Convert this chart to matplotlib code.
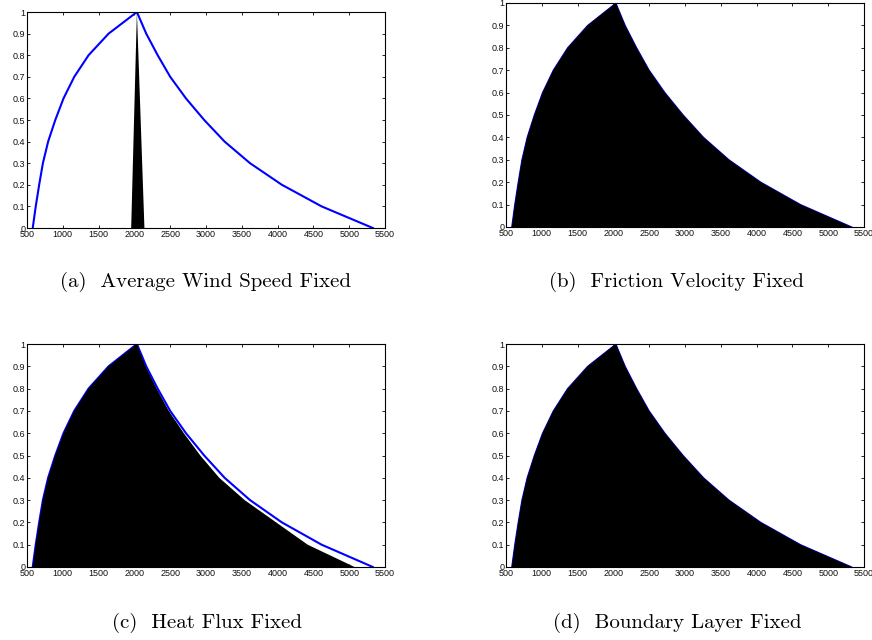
import matplotlib
matplotlib.use("Agg")
import matplotlib.pyplot as plt
import numpy as np

# membership levels
levels = [0, 0.1, 0.2, 0.3, 0.4, 0.5, 0.6, 0.7, 0.8, 0.9, 1.0]
# blue curve: rising side x for each level, falling side x for each level (1 -> 0)
rise_x = [580, 622, 670, 722, 795, 895, 1010, 1160, 1360, 1640, 2035]
fall_x = [2035, 2165, 2325, 2500, 2720, 2975, 3260, 3615, 4060, 4615, 5330]
# black area in (a): narrow spike
spike_x = [1955, 2035, 2140]
spike_y = [0, 1, 0]
# black area in (c): falling side slightly inside the blue curve
fall_x_c = [2035, 2155, 2310, 2480, 2690, 2920, 3185, 3540, 3980, 4420, 5075]

captions = ["(a)  Average Wind Speed Fixed", "(b)  Friction Velocity Fixed",
            "(c)  Heat Flux Fixed", "(d)  Boundary Layer Fixed"]

xticks = list(range(500, 5501, 500))
yticks = [0, 0.1, 0.2, 0.3, 0.4, 0.5, 0.6, 0.7, 0.8, 0.9, 1]
ytick_labels = ["0", "0.1", "0.2", "0.3", "0.4", "0.5", "0.6", "0.7", "0.8", "0.9", "1"]

W, H = 872, 640
fig = plt.figure(figsize=(W / 100, H / 100), dpi=100)

# axes boxes in pixels: left, top, right, bottom
boxes = [(27, 12, 385, 228), (506, 3, 864, 227), (27, 344, 385, 567), (506, 344, 864, 567)]
cap_pos = [(205, 282), (676, 282), (207, 623), (677, 623)]

blue_x = rise_x + fall_x[1:]
blue_y = levels + levels[::-1][1:]

for i, (l, t, r, b) in enumerate(boxes):
    ax = fig.add_axes([l / W, 1 - b / H, (r - l) / W, (b - t) / H])
    if i == 0:
        ax.plot(blue_x, blue_y, color="#0000ff", lw=1.5, zorder=2)
        ax.fill(spike_x, spike_y, color="black", lw=0, zorder=3)
    elif i == 2:
        ax.plot(blue_x, blue_y, color="#0000ff", lw=1.5, zorder=2)
        cx = rise_x + fall_x_c[1:]
        ax.fill(cx, blue_y, color="black", lw=0, zorder=3)
    else:
        ax.plot(blue_x, blue_y, color="#0000ff", lw=0.8, zorder=2)
        ax.fill(blue_x, blue_y, color="black", lw=0, zorder=3)
    ax.set_xlim(500, 5500)
    ax.set_ylim(0, 1)
    ax.set_xticks(xticks)
    ax.set_xticklabels([str(v) for v in xticks], family="Liberation Sans", fontsize=6.5)
    ax.set_yticks(yticks)
    ax.set_yticklabels(ytick_labels, family="Liberation Sans", fontsize=6.5)
    ax.tick_params(direction="in", length=2.5, width=0.6, top=True, right=True, pad=1.2,
                   colors="black", labelcolor="#111111")
    for s in ax.spines.values():
        s.set_linewidth(0.8)
    fig.text(cap_pos[i][0] / W, 1 - cap_pos[i][1] / H, captions[i], family="cmr10",
             fontsize=15, ha="center", va="center")

fig.savefig("out.png", dpi=100)
